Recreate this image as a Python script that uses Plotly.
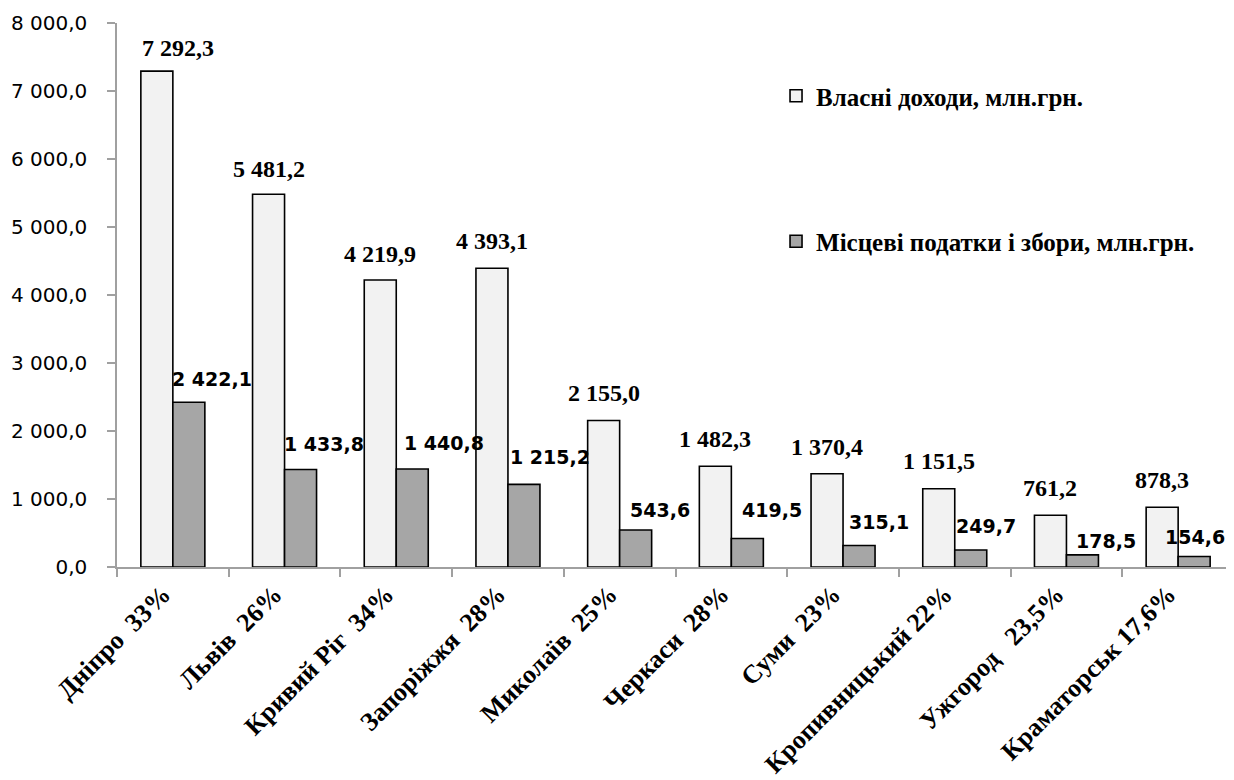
import plotly.graph_objects as go

categories = ["Дніпро  33%", "Львів  26%", "Кривий Ріг  34%", "Запоріжжя  28%",
              "Миколаїв  25%", "Черкаси  28%", "Суми  23%", "Кропивницький 22%",
              "Ужгород   23,5%", "Краматорськ 17,6%"]
own_income = [7292.3, 5481.2, 4219.9, 4393.1, 2155.0, 1482.3, 1370.4, 1151.5, 761.2, 878.3]
local_taxes = [2422.1, 1433.8, 1440.8, 1215.2, 543.6, 419.5, 315.1, 249.7, 178.5, 154.6]
y_ticks = [0, 1000, 2000, 3000, 4000, 5000, 6000, 7000, 8000]

name_own = "Власні доходи, млн.грн."
name_tax = "Місцеві податки і збори, млн.грн."

# label placement (style): pixel nudges of the value labels
own_dx = [21, 0, 0, 0, 0, 0, 0, 0, 0, 0]
own_gap = [14, 16, 17, 18, 18, 18, 18, 19, 18, 18]
tax_dx = [23, 23, 32, 26, 24, 25, 20, 15, 24, 1]
tax_gap = [15, 18, 18, 19, 12, 20, 16, 16, 6, 11]


def fmt(v):
    s = f"{v:,.1f}"
    return s.replace(",", " ").replace(".", ",")


fig = go.Figure()
fig.add_trace(go.Bar(x=categories, y=own_income, name="<b>" + name_own + "</b>", legendgroup="a",
                     marker=dict(color="#F2F2F2", line=dict(color="black", width=1.6))))
fig.add_trace(go.Bar(x=categories, y=local_taxes, name="<b>" + name_tax + "</b>", legendgroup="b",
                     marker=dict(color="#A6A6A6", line=dict(color="black", width=1.6))))

ann = []
for i, c in enumerate(categories):
    ann.append(dict(x=c, y=own_income[i], text="<b>" + fmt(own_income[i]) + "</b>", showarrow=False,
                    xanchor="center", yanchor="bottom", xshift=-16 + own_dx[i], yshift=own_gap[i] - 6,
                    font=dict(family="Liberation Serif", size=24, color="black")))
    ann.append(dict(x=c, y=local_taxes[i], text="<b>" + fmt(local_taxes[i]) + "</b>", showarrow=False,
                    xanchor="center", yanchor="bottom", xshift=16 + tax_dx[i], yshift=tax_gap[i] - 5,
                    font=dict(family="DejaVu Sans", size=19, color="black")))

fig.update_layout(
    width=1226, height=772,
    margin=dict(l=109, r=0, t=15, b=213, autoexpand=False),
    paper_bgcolor="white", plot_bgcolor="white",
    separators=", ",
    barmode="group", bargap=0.427, bargroupgap=0,
    annotations=ann,
    showlegend=True,
    legend=dict(x=0.59, y=0.908, xanchor="left", yanchor="top",
                traceorder="grouped", tracegroupgap=110,
                font=dict(family="Liberation Serif", size=25, color="black"),
                bgcolor="rgba(0,0,0,0)"),
    font=dict(family="Liberation Serif", color="black"),
)
fig.update_xaxes(
    type="category", showline=True, linecolor="#A0A0A0", linewidth=1.5,
    ticks="outside", tickson="boundaries", ticklen=8, tickcolor="#A0A0A0", tickwidth=1.5,
    tickangle=-45, showgrid=False, automargin=False, ticklabelshift=-10,
    tickvals=categories, ticktext=["<b>" + c + "</b>" for c in categories],
    tickfont=dict(family="Liberation Serif", size=26, color="black"),
)
fig.update_yaxes(
    range=[0, 8000], tickvals=y_ticks, tickformat=",.1f",
    showline=True, linecolor="#A0A0A0", linewidth=1.5,
    ticks="outside", ticklen=8, tickcolor="#A0A0A0", tickwidth=1.5,
    showgrid=False, zeroline=False, ticklabelstandoff=16, automargin=False,
    tickfont=dict(family="DejaVu Sans", size=20, color="black"),
)

fig.write_html("out.html")
